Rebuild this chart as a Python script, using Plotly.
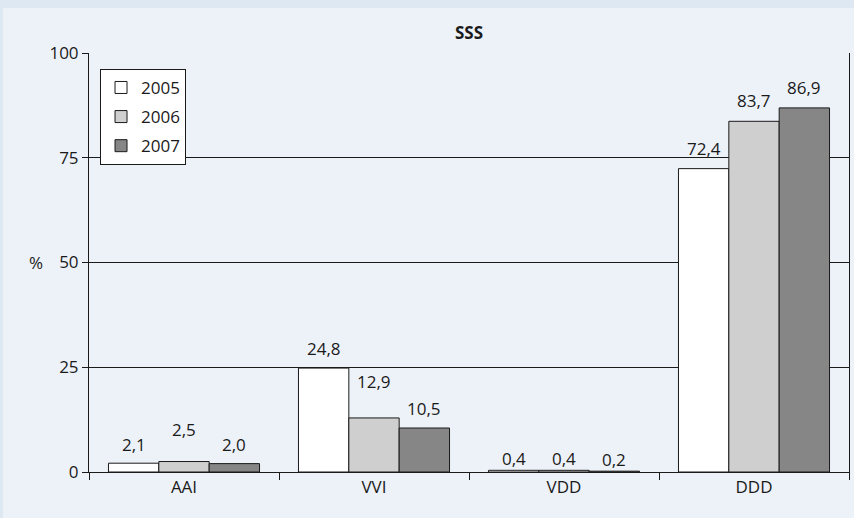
import plotly.graph_objects as go

# Pacing modes and yearly shares (%)
categories = ["AAI", "VVI", "VDD", "DDD"]
years = ["2005", "2006", "2007"]
values_2005 = [2.1, 24.8, 0.4, 72.4]
values_2006 = [2.5, 12.9, 0.4, 83.7]
values_2007 = [2.0, 10.5, 0.2, 86.9]
y_ticks = [0, 25, 50, 75, 100]

series = [values_2005, values_2006, values_2007]
fills = ["#ffffff", "#cfcfcf", "#868686"]
# vertical pixel lift of each value label above its bar (per year, per category)
label_lift = [[19, 20, 12, 20], [32, 36, 12, 21], [19, 20, 12, 20]]

FONT = "Open Sans"
INK = "#1a1a1a"
FS = 17

fig = go.Figure()
for i, (yr, vals) in enumerate(zip(years, series)):
    fig.add_trace(go.Bar(
        x=categories, y=vals, name=yr, legendgroup=yr,
        marker=dict(color=fills[i], line=dict(color=INK, width=1)),
        offsetgroup=str(i),
    ))

def fmt(v):
    return f"{v:.1f}".replace(".", ",")

bar_w = (1 - 0.205) / 3
for i, vals in enumerate(series):
    for j, v in enumerate(vals):
        xoff = (i - 1) * bar_w
        fig.add_annotation(
            x=j + xoff, y=v, xref="x", yref="y", text=fmt(v),
            showarrow=False, yshift=label_lift[i][j], yanchor="middle",
            font=dict(family=FONT, size=FS, color=INK),
        )

fig.add_annotation(x=-0.0816, y=50, xref="paper", yref="y", text="%", showarrow=False,
                   font=dict(family=FONT, size=FS, color=INK))

fig.update_layout(
    width=854, height=518,
    margin=dict(l=89, r=5, t=53, b=46),
    paper_bgcolor="#edf2f9", plot_bgcolor="rgba(0,0,0,0)",
    title=dict(text="<b>SSS</b>", x=0.5, xanchor="center", xref="paper",
               y=1 - 33 / 518, yanchor="middle",
               font=dict(family=FONT, size=FS, color=INK)),
    barmode="group", bargap=0.205, bargroupgap=0,
    font=dict(family=FONT, size=FS, color=INK),
    showlegend=True,
    legend=dict(x=0.0145, y=0.962, xanchor="left", yanchor="top",
                xref="paper", yref="paper",
                bgcolor="#ffffff", bordercolor=INK, borderwidth=1,
                traceorder="grouped", tracegroupgap=4,
                font=dict(family=FONT, size=FS, color=INK)),
    xaxis=dict(type="category", tickson="boundaries", ticks="outside", ticklen=7,
               tickcolor=INK, showline=True, linecolor=INK, linewidth=1,
               showgrid=False, tickfont=dict(family=FONT, size=FS, color=INK)),
    yaxis=dict(range=[0, 100], tickvals=y_ticks, ticks="outside", ticklen=6,
               tickcolor=INK, showline=True, linecolor=INK, linewidth=1, mirror=True,
               showgrid=True, gridcolor=INK, gridwidth=1, zeroline=False,
               tickfont=dict(family=FONT, size=FS, color=INK)),
)

# light frame strips along the top and left edges of the page
fig.add_shape(type="rect", xref="paper", yref="paper",
              x0=-89 / 760, x1=(-89 + 3) / 760, y0=-46 / 419, y1=(419 + 53) / 419,
              fillcolor="#dde8f2", line=dict(width=0), layer="below")
fig.add_shape(type="rect", xref="paper", yref="paper",
              x0=-89 / 760, x1=(760 + 5) / 760, y0=(419 + 45) / 419, y1=(419 + 53) / 419,
              fillcolor="#dde8f2", line=dict(width=0), layer="below")

fig.write_html("out.html")
